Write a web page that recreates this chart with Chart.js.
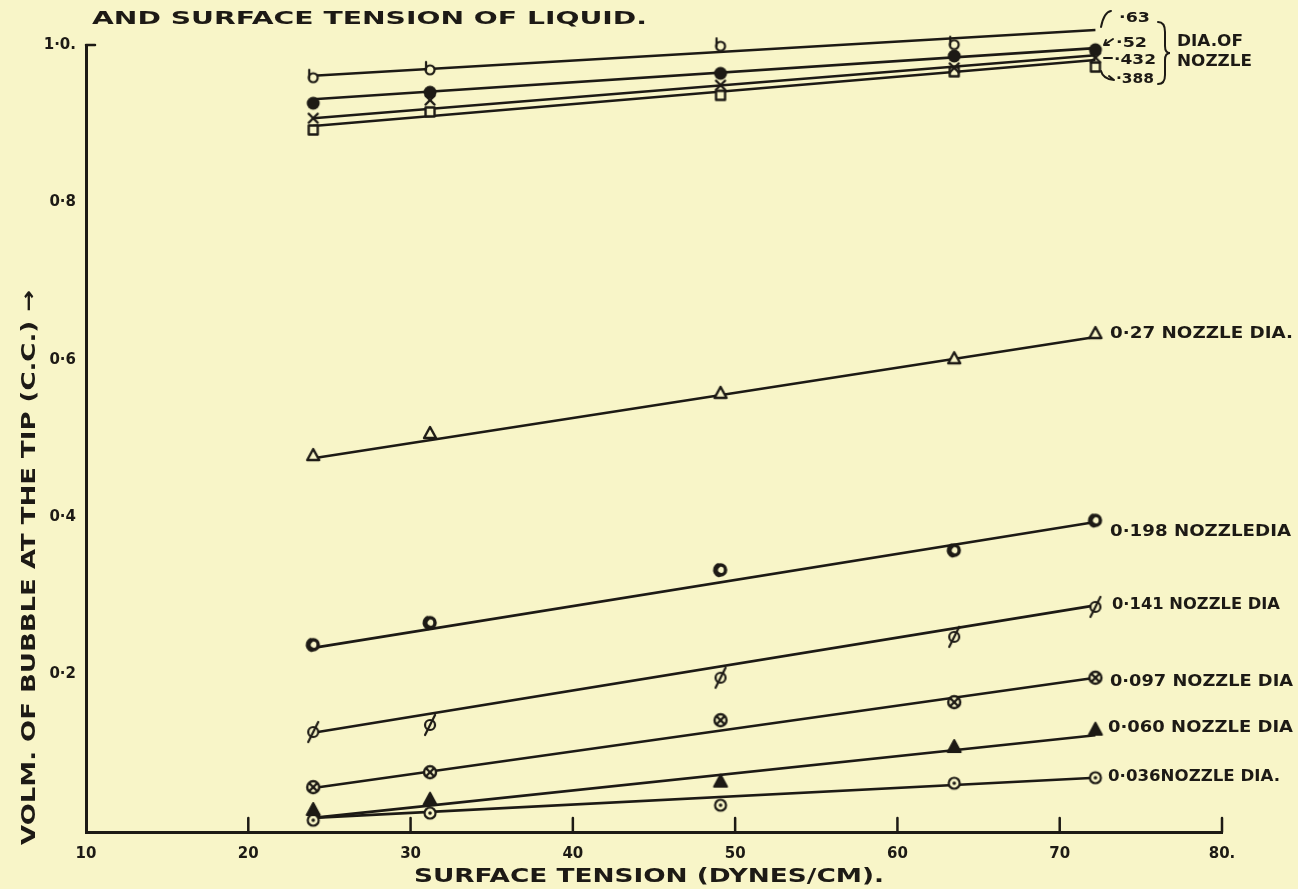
<!DOCTYPE html>
<html>
<head>
<meta charset="utf-8">
<script src="https://cdn.jsdelivr.net/npm/chart.js@4.4.1/dist/chart.umd.min.js"></script>
<style>
  html, body { margin: 0; padding: 0; background: #f8f5c8; }
  #chart { display: block; }
</style>
</head>
<body>
<canvas id="chart" width="1298" height="889"></canvas>
<script>
// surface tension of the liquids (dynes/cm)
var tension = [24.0, 31.2, 49.1, 63.5, 72.2];

// measured bubble volume (c.c.) for each nozzle diameter
var vol063  = [0.961, 0.971, 1.001, 1.003, 1.018];
var vol052  = [0.926, 0.940, 0.964, 0.986, 0.994];
var vol0432 = [0.907, 0.930, 0.949, 0.971, 0.984];
var vol0388 = [0.892, 0.915, 0.936, 0.966, 0.972];
var vol027  = [0.479, 0.507, 0.558, 0.602, 0.634];
var vol0198 = [0.238, 0.266, 0.333, 0.358, 0.396];
var vol0141 = [0.127, 0.136, 0.196, 0.248, 0.286];
var vol0097 = [0.057, 0.076, 0.142, 0.165, 0.196];
var vol0060 = [0.028, 0.041, 0.064, 0.108, 0.130];
var vol0036 = [0.015, 0.024, 0.034, 0.062, 0.069];

// ends of the straight lines drawn through each set
var fitTension = [24.0, 72.2];
var fit063  = [0.961, 1.019];
var fit052  = [0.931, 0.996];
var fit0432 = [0.907, 0.987];
var fit0388 = [0.897, 0.981];
var fit027  = [0.475, 0.629];
var fit0198 = [0.234, 0.394];
var fit0141 = [0.126, 0.288];
var fit0097 = [0.056, 0.196];
var fit0060 = [0.018, 0.123];
var fit0036 = [0.018, 0.069];

var xTicks = [10, 20, 30, 40, 50, 60, 70, 80];
var xTickLabels = ['10', '20', '30', '40', '50', '60', '70', '80.'];
var yTicks = [0.2, 0.4, 0.6, 0.8, 1.0];
var yTickLabels = ['0·2', '0·4', '0·6', '0·8', '1·0.'];

var ink = '#1d1a15';
var paper = '#f8f5c8';
var letterFont = '"DejaVu Sans"';

function pairs(xs, ys) {
    return ys.map(function(v, i) { return { x: xs[i], y: v }; });
}

function marker(draw) {
    var c = document.createElement('canvas');
    c.width = 26; c.height = 26;
    var g = c.getContext('2d');
    g.translate(13, 13);
    g.strokeStyle = ink;
    g.fillStyle = ink;
    g.lineWidth = 2;
    g.lineJoin = 'round';
    g.lineCap = 'round';
    draw(g);
    return c;
}

function ring(g, r, lw) {
    g.beginPath();
    g.arc(0, 0, r, 0, Math.PI * 2);
    g.fillStyle = paper;
    g.fill();
    g.lineWidth = lw;
    g.stroke();
    g.fillStyle = ink;
}

function seg(g, x1, y1, x2, y2) {
    g.beginPath(); g.moveTo(x1, y1); g.lineTo(x2, y2); g.stroke();
}

var markers = {
    m063: marker(function(g) {
        g.translate(0, 2);
        ring(g, 4.5, 2.2);
        seg(g, -4, 0, -4, -8);
    }),
    m052: marker(function(g) {
        g.beginPath(); g.arc(0, 0, 6.5, 0, Math.PI * 2); g.fill();
    }),
    m0432: marker(function(g) {
        g.lineWidth = 2.4;
        seg(g, -4.5, -4.5, 4.5, 4.5);
        seg(g, 4.5, -4.5, -4.5, 4.5);
    }),
    m0388: marker(function(g) {
        g.lineWidth = 2.4;
        g.fillStyle = paper;
        g.fillRect(-4.5, -4.5, 9, 9);
        g.strokeRect(-4.5, -4.5, 9, 9);
    }),
    m027: marker(function(g) {
        g.lineWidth = 2.4;
        g.beginPath(); g.moveTo(0, -6); g.lineTo(6, 5); g.lineTo(-6, 5); g.closePath();
        g.fillStyle = paper; g.fill(); g.stroke();
    }),
    m0198: marker(function(g) {
        ring(g, 5, 3.5);
        g.beginPath(); g.arc(0, 0, 5, Math.PI * 0.6, Math.PI * 1.3); g.lineWidth = 5; g.stroke();
    }),
    m0141: marker(function(g) {
        ring(g, 5, 2.2);
        seg(g, -5, 10, 5, -10);
    }),
    m0097: marker(function(g) {
        ring(g, 6, 2.4);
        seg(g, -3.5, -3.5, 3.5, 3.5);
        seg(g, 3.5, -3.5, -3.5, 3.5);
    }),
    m0060: marker(function(g) {
        g.beginPath(); g.moveTo(0, -7); g.lineTo(6.5, 5); g.lineTo(-6.5, 5); g.closePath();
        g.fill(); g.stroke();
    }),
    m0036: marker(function(g) {
        ring(g, 5.5, 2.2);
        g.beginPath(); g.arc(0, 0, 1.8, 0, Math.PI * 2); g.fill();
    })
};

var series = [
    [vol063, fit063, markers.m063],
    [vol052, fit052, markers.m052],
    [vol0432, fit0432, markers.m0432],
    [vol0388, fit0388, markers.m0388],
    [vol027, fit027, markers.m027],
    [vol0198, fit0198, markers.m0198],
    [vol0141, fit0141, markers.m0141],
    [vol0097, fit0097, markers.m0097],
    [vol0060, fit0060, markers.m0060],
    [vol0036, fit0036, markers.m0036]
];

var datasets = [];
series.forEach(function(s) {
    datasets.push({
        data: pairs(fitTension, s[1]),
        showLine: true,
        borderColor: ink,
        borderWidth: 2.6,
        pointRadius: 0,
        clip: false,
        order: 2
    });
    datasets.push({
        data: pairs(tension, s[0]),
        showLine: false,
        pointStyle: s[2],
        pointRadius: 8,
        clip: false,
        order: 1
    });
});

// hand lettering round the chart
var notes = [
    { text: 'AND SURFACE TENSION OF LIQUID.', x: 92, y: 19, w: 555, size: 18 },
    { text: 'SURFACE TENSION (DYNES/CM).', x: 414, y: 877, w: 470, size: 19 },
    { text: 'VOLM. OF BUBBLE AT THE TIP (C.C.) →', x: 30, y: 845, w: 555, size: 20, rot: -Math.PI / 2 },
    { text: '0·27 NOZZLE DIA.', x: 1110, y: 334, w: 183, size: 15 },
    { text: '0·198 NOZZLEDIA', x: 1110, y: 532, w: 181, size: 15 },
    { text: '0·141 NOZZLE DIA', x: 1112, y: 605, w: 168, size: 15 },
    { text: '0·097 NOZZLE DIA', x: 1110, y: 682, w: 183, size: 15 },
    { text: '0·060 NOZZLE DIA', x: 1108, y: 728, w: 185, size: 15 },
    { text: '0·036NOZZLE DIA.', x: 1108, y: 777, w: 172, size: 15 },
    { text: '·63', x: 1119, y: 18, w: 31, size: 14 },
    { text: '·52', x: 1116, y: 43, w: 31, size: 14 },
    { text: '·432', x: 1114, y: 60, w: 42, size: 14 },
    { text: '·388', x: 1116, y: 79, w: 38, size: 14 },
    { text: 'DIA.OF', x: 1177, y: 42, w: 66, size: 15 },
    { text: 'NOZZLE', x: 1177, y: 62, w: 75, size: 15 }
];

function fitText(ctx, n) {
    ctx.save();
    ctx.translate(n.x, n.y);
    if (n.rot) ctx.rotate(n.rot);
    ctx.font = 'bold ' + n.size + 'px ' + letterFont;
    ctx.textBaseline = 'middle';
    ctx.textAlign = 'left';
    var m = ctx.measureText(n.text).width;
    ctx.scale(n.w / m, 1);
    ctx.fillStyle = ink;
    ctx.fillText(n.text, 0, 0);
    ctx.restore();
}

var lettering = {
    id: 'lettering',
    afterDraw: function(chart) {
        var ctx = chart.ctx;
        var xs = chart.scales.x;
        var area = chart.chartArea;
        ctx.save();
        ctx.strokeStyle = ink;
        ctx.lineWidth = 2.5;
        ctx.lineCap = 'round';
        // tick marks stand up inside the plot
        xTicks.forEach(function(v) {
            if (v === xTicks[0]) return;
            var px = xs.getPixelForValue(v);
            ctx.beginPath();
            ctx.moveTo(px, area.bottom);
            ctx.lineTo(px, area.bottom - 14);
            ctx.stroke();
        });
        // small hook at top of y axis
        ctx.beginPath();
        ctx.moveTo(area.left, area.top);
        ctx.lineTo(area.left + 9, area.top);
        ctx.stroke();

        // brace and leaders for the top group
        ctx.lineWidth = 2;
        ctx.beginPath();
        ctx.moveTo(1158, 22);
        ctx.quadraticCurveTo(1165, 22, 1165, 32);
        ctx.lineTo(1165, 46);
        ctx.quadraticCurveTo(1165, 53, 1170, 53);
        ctx.quadraticCurveTo(1165, 53, 1165, 60);
        ctx.lineTo(1165, 75);
        ctx.quadraticCurveTo(1165, 84, 1158, 84);
        ctx.stroke();

        ctx.beginPath();
        ctx.moveTo(1101, 27);
        ctx.quadraticCurveTo(1104, 12, 1111, 11);
        ctx.stroke();
        ctx.beginPath();
        ctx.moveTo(1104, 45); ctx.lineTo(1113, 39);
        ctx.moveTo(1104, 45); ctx.lineTo(1106, 40);
        ctx.moveTo(1104, 45); ctx.lineTo(1109, 45);
        ctx.stroke();
        ctx.beginPath();
        ctx.moveTo(1104, 58); ctx.lineTo(1112, 58);
        ctx.stroke();
        ctx.beginPath();
        ctx.moveTo(1101, 71);
        ctx.quadraticCurveTo(1103, 79, 1114, 80);
        ctx.moveTo(1114, 80); ctx.lineTo(1109, 76);
        ctx.stroke();
        ctx.restore();

        notes.forEach(function(n) { fitText(ctx, n); });
    }
};

new Chart(document.getElementById('chart'), {
    type: 'scatter',
    data: { datasets: datasets },
    options: {
        responsive: false,
        animation: false,
        layout: { padding: { top: 45, right: 76, bottom: 0, left: 0 } },
        plugins: {
            legend: { display: false },
            tooltip: { enabled: false }
        },
        scales: {
            x: {
                type: 'linear',
                min: 10,
                max: 80,
                afterFit: function(s) { s.height = 57; },
                afterBuildTicks: function(s) { s.ticks = xTicks.map(function(v) { return { value: v }; }); },
                grid: { display: false, drawTicks: false },
                border: { color: ink, width: 3 },
                ticks: {
                    autoSkip: false,
                    maxRotation: 0,
                    padding: 13,
                    color: ink,
                    font: { family: letterFont, size: 15, weight: 'bold' },
                    callback: function(v, i) { return xTickLabels[i]; }
                }
            },
            y: {
                type: 'linear',
                min: 0,
                max: 1,
                afterFit: function(s) { s.width = 86; },
                afterBuildTicks: function(s) { s.ticks = yTicks.map(function(v) { return { value: v }; }); },
                grid: { display: false, drawTicks: false },
                border: { color: ink, width: 3 },
                ticks: {
                    padding: 10,
                    color: ink,
                    font: { family: letterFont, size: 15, weight: 'bold' },
                    callback: function(v, i) { return yTickLabels[i]; }
                }
            }
        }
    },
    plugins: [lettering]
});
</script>
</body>
</html>
